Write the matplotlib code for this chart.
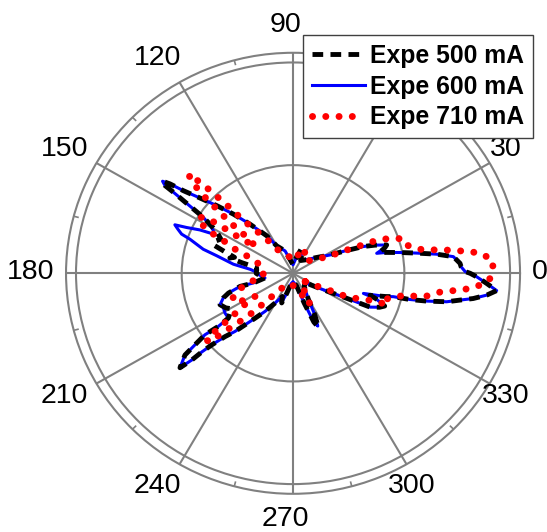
import matplotlib.pyplot as plt
import numpy as np
from matplotlib.transforms import ScaledTranslation

plt.rcParams['font.family'] = ['Liberation Sans', 'DejaVu Sans']

# angle (deg) and normalised intensity
theta_500 = [-35, -30.4, -25.7, -24.3, -22, -20.2, -17.5, -16.4, -14.5, -13.5, -13, -12.1,
             -10.8, -9.4, -8.2, -6.6, -5.0, -3.1, -1.1, 0, 0.6, 2.3, 3.5, 6.1, 7.8, 9.5,
             11.3, 13, 13.8, 16, 17.3, 19.5, 21.4, 24, 27, 35, 49, 60, 67, 72, 78, 90,
             109, 120, 124.2, 130.4, 134.4, 137.6, 140.2, 142.2, 143.2, 144.0, 144.8,
             145.1, 145.7, 146.4, 147.3, 149, 151, 154, 157, 159.8, 162, 164.3, 166, 168,
             171, 175, 180, 185, 189.7, 194.1, 194.3, 197.5, 200, 203.9, 208, 210.6,
             215.5, 216.2, 215.7, 216.9, 217.9, 220.7, 221.4, 221.6, 222.2, 223.8, 225.9,
             230.6, 234.5, 239.5, 246, 249.6, 253, 260, 270, 285, 290, 292.5, 294.5, 297,
             300, 310, 325]
r_500 = [0.09, 0.14, 0.27, 0.39, 0.43, 0.45, 0.40, 0.37, 0.44, 0.475, 0.553, 0.629,
         0.721, 0.779, 0.839, 0.899, 0.942, 0.894, 0.846, 0.816, 0.793, 0.775, 0.771, 0.743,
         0.668, 0.58, 0.503, 0.44, 0.41, 0.44, 0.452, 0.40, 0.348, 0.26, 0.191, 0.13, 0.084,
         0.07, 0.105, 0.12, 0.08, 0.04, 0.112, 0.150, 0.215, 0.306, 0.393, 0.476, 0.558,
         0.639, 0.708, 0.743, 0.722, 0.672, 0.611, 0.551, 0.491, 0.44, 0.40, 0.37, 0.39,
         0.391, 0.33, 0.28, 0.30, 0.24, 0.17, 0.168, 0.17, 0.15, 0.131, 0.189, 0.252, 0.312,
         0.342, 0.368, 0.35, 0.33, 0.366, 0.427, 0.500, 0.565, 0.631, 0.687, 0.622, 0.561,
         0.506, 0.434, 0.384, 0.276, 0.222, 0.164, 0.12, 0.15, 0.10, 0.05, 0.04, 0.06,
         0.15, 0.25, 0.281, 0.22, 0.14, 0.08, 0.07]

theta_600 = [-35, -30.4, -25.7, -24.3, -22, -20.2, -17.5, -16.4, -14.5, -13.5, -13, -12.1,
             -10.8, -9.4, -8.2, -6.6, -5.0, -3.1, -1.1, 0, 0.6, 2.3, 3.5, 6.1, 7.8, 9.5,
             11.3, 13, 13.8, 16, 17.3, 19.5, 21.4, 24, 27, 35, 49, 60, 67, 72, 78, 90,
             109, 120, 124.2, 130.4, 134.4, 137.6, 140.2, 142.2, 143.2, 144.0, 144.8,
             145.1, 145.7, 146.4, 147.3, 149, 151, 153.1, 154.4, 156.1, 157.1, 158.5,
             160.1, 161.2, 164.6, 166.7, 171.1, 174.5, 178, 182, 189.7, 194.1, 194.3,
             197.5, 200, 203.9, 207, 211, 215.5, 216.2, 215.7, 216.9, 217.9, 220.7, 221.4,
             221.6, 222.2, 223.8, 225.9, 230.6, 234.5, 239.5, 246, 249.6, 253, 260, 270,
             285, 290, 292.5, 294.5, 297, 300, 310, 325]
r_600 = [0.09, 0.14, 0.27, 0.39, 0.43, 0.45, 0.40, 0.338, 0.44, 0.475, 0.553, 0.629,
         0.721, 0.779, 0.839, 0.899, 0.942, 0.894, 0.846, 0.816, 0.793, 0.775, 0.771, 0.743,
         0.668, 0.58, 0.503, 0.44, 0.397, 0.44, 0.452, 0.40, 0.348, 0.26, 0.191, 0.13,
         0.084, 0.07, 0.10, 0.11, 0.08, 0.04, 0.112, 0.150, 0.215, 0.306, 0.393, 0.476,
         0.558, 0.639, 0.708, 0.743, 0.722, 0.672, 0.611, 0.551, 0.491, 0.45, 0.42, 0.411,
         0.476, 0.536, 0.591, 0.57, 0.546, 0.502, 0.429, 0.361, 0.278, 0.199, 0.17, 0.16,
         0.131, 0.189, 0.252, 0.312, 0.342, 0.368, 0.36, 0.366, 0.366, 0.427, 0.500, 0.565,
         0.631, 0.687, 0.622, 0.561, 0.506, 0.434, 0.384, 0.276, 0.222, 0.164, 0.12, 0.14,
         0.10, 0.05, 0.04, 0.06, 0.15, 0.25, 0.275, 0.22, 0.14, 0.08, 0.07]

theta_710 = [-35, -32.6, -27.3, -25.1, -24.2, -21.6, -19.4, -19, -17, -15, -12.1, -10.9,
             -10, -7.6, -6.4, -5.5, -4.3, -2.0, 0, 3.4, 6.0, 7.2, 8.1, 9.0, 9.8, 11.0, 13.8,
             17.4, 20, 21.8, 22.7, 23.1, 24.7, 25.7, 31.6, 45, 58, 65, 72, 90, 106.6, 123.4,
             127.2, 131.2, 132.7, 133.3, 134.1, 134.6, 135.8, 137.4, 138.5, 139.2, 140.3,
             140.9, 143.4, 145.6, 145.9, 146, 147.1, 148.7, 150.3, 152.9, 153.8, 156.7,
             158.8, 165, 175.7, 187, 191.8, 197, 203.8, 209.3, 212.1, 214, 216.3, 217.1,
             218.4, 220.3, 221, 222.4, 224.4, 226, 229, 235, 260, 285, 296, 298, 300, 310,
             325]
r_710 = [0.07, 0.089, 0.149, 0.210, 0.271, 0.332, 0.393, 0.447, 0.43, 0.46, 0.511, 0.572,
         0.624, 0.680, 0.741, 0.795, 0.848, 0.905, 0.916, 0.925, 0.879, 0.822, 0.762, 0.708,
         0.653, 0.596, 0.547, 0.541, 0.489, 0.428, 0.371, 0.311, 0.247, 0.189, 0.128, 0.08,
         0.10, 0.13, 0.10, 0.06, 0.091, 0.137, 0.213, 0.289, 0.372, 0.447, 0.528, 0.600,
         0.672, 0.614, 0.531, 0.454, 0.377, 0.295, 0.213, 0.287, 0.345, 0.424, 0.488, 0.51,
         0.502, 0.433, 0.367, 0.296, 0.229, 0.157, 0.134, 0.142, 0.202, 0.26, 0.309, 0.266,
         0.207, 0.28, 0.355, 0.431, 0.508, 0.506, 0.432, 0.362, 0.288, 0.214, 0.139, 0.08,
         0.05, 0.08, 0.14, 0.166, 0.12, 0.06, 0.06]

labels = ['Expe 500 mA', 'Expe 600 mA', 'Expe 710 mA']
angle_ticks = np.arange(0, 360, 30)


def closed(th, r):
    th = np.deg2rad(np.append(th, th[0] + 360))
    return th, np.append(r, r[0])


fig = plt.figure(figsize=(5.47, 5.32), dpi=100)
ax = fig.add_axes([0.1207, 0.0718, 0.830, 0.829], projection='polar')
ax.set_aspect('auto')

gray = '#808080'
rmax = 1.046
ax.set_ylim(0, rmax)
ax.set_rgrids([0.513, 1.0])
ax.set_yticklabels([])
ax.set_thetagrids(angle_ticks, [''] * len(angle_ticks))
ax.grid(True, color=gray, lw=1.5)
ax.spines['polar'].set_color(gray)
ax.spines['polar'].set_linewidth(1.5)

# angle labels, placed like the original (slightly offset up-left)
shift = ax.transData + ScaledTranslation(-0.08, 0.04, fig.dpi_scale_trans)
for a in angle_ticks:
    ax.text(np.deg2rad(a), 1.172, str(a), fontsize=20.5, ha='center',
            va='center_baseline', transform=shift)

# small ticks on the outer frame
for a in np.arange(15, 360, 30):
    ax.plot([np.deg2rad(a)] * 2, [1.026, rmax], color=gray, lw=1.2, zorder=1)

th, r = closed(theta_600, r_600)
l2, = ax.plot(th, r, color='#0000ff', lw=2.2, zorder=3)
th, r = closed(theta_500, r_500)
l1, = ax.plot(th, r, color='black', lw=3.5, ls=(0, (2.2, 1.5)), zorder=4,
              dash_capstyle='butt')
th, r = closed(theta_710, r_710)
l3, = ax.plot(th, r, color='#ff0000', lw=5.0, ls=(0, (0.01, 1.9)), zorder=5,
              dash_capstyle='round')

leg = fig.legend([l1, l2, l3], labels, loc='upper left', bbox_to_anchor=(0.554, 0.934),
                 borderaxespad=0, prop={'weight': 'bold', 'size': 17.8}, handlelength=2.15,
                 handletextpad=0.2, labelspacing=0.27, borderpad=0.36, fancybox=False,
                 framealpha=1, edgecolor='#404040')
leg.get_frame().set_linewidth(1.0)

fig.savefig('out.png', dpi=100)
